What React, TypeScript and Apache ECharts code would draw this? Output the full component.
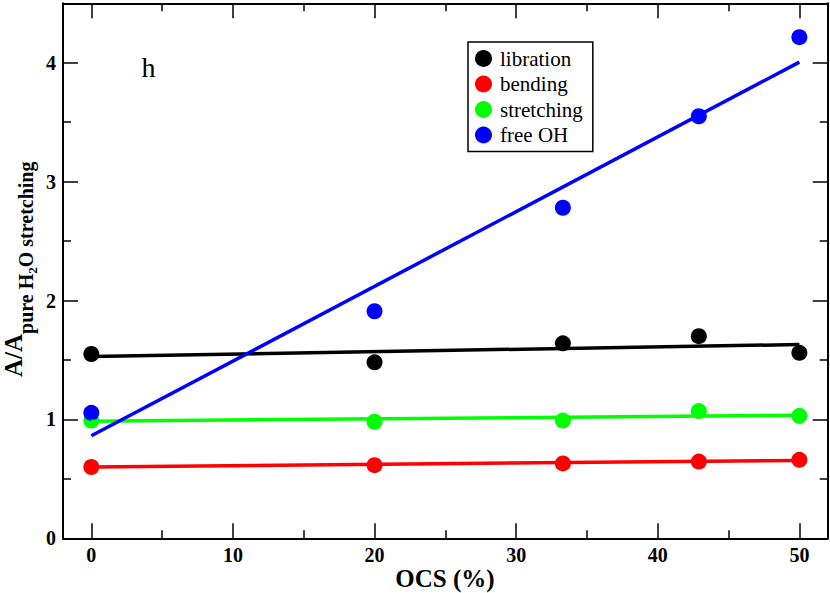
import { useEffect, useRef } from 'react';
import * as echarts from 'echarts';

// ---- data ----
const ocs = [0, 20, 33.3, 42.9, 50];
const libration = [1.55, 1.48, 1.64, 1.7, 1.56];
const bending = [0.6, 0.615, 0.63, 0.645, 0.66];
const stretching = [0.99, 0.98, 0.99, 1.07, 1.03];
const freeOH = [1.055, 1.91, 2.78, 3.55, 4.215];

const fitX = [0, 50];
const fitLibration = [1.53, 1.63];
const fitBending = [0.6, 0.655];
const fitStretching = [0.985, 1.035];
const fitFreeOH = [0.862, 4.005];

const seriesNames = ['libration', 'bending', 'stretching', 'free OH'];
const seriesColors = ['#000000', '#ff0000', '#00ff00', '#0000ff'];
const pointSets = [libration, bending, stretching, freeOH];
const fitSets = [fitLibration, fitBending, fitStretching, fitFreeOH];

const xTitle = 'OCS (%)';
const panelLabel = 'h';

const FONT = '"Liberation Serif", "Times New Roman", serif';

const pair = (xs: number[], ys: number[]) => xs.map((x, i) => [x, ys[i]]);

function measure(text: string, font: string): number {
  const c = document.createElement('canvas').getContext('2d');
  if (!c) return text.length * 10;
  c.font = font;
  return c.measureText(text).width;
}

export default function App() {
  const ref = useRef<HTMLDivElement>(null);

  useEffect(() => {
    if (!ref.current) return;
    const chart = echarts.init(ref.current, undefined, { renderer: 'svg' });

    const axisCommon = {
      axisLine: { show: true, onZero: false, lineStyle: { color: '#000', width: 2 } },
      axisTick: { show: true, inside: true, length: 15, lineStyle: { color: '#000', width: 1.5 } },
      minorTick: { show: true, splitNumber: 2, length: 8, lineStyle: { color: '#000', width: 1.5 } },
      splitLine: { show: false },
      minorSplitLine: { show: false },
    };
    const labelStyle = {
      fontFamily: FONT,
      fontWeight: 'bold' as const,
      fontSize: 20,
      color: '#000',
    };

    // y-axis title built from pieces (main text + subscripts)
    const mainFont = `bold 25px "Liberation Serif"`;
    const subFont = `bold 20px "Liberation Serif"`;
    const subSubFont = `bold 13px "Liberation Serif"`;
    const pieces = [
      { text: 'A/A', font: mainFont, size: 25, base: 0 },
      { text: 'pure H', font: subFont, size: 20, base: 10.6 },
      { text: '2', font: subSubFont, size: 13, base: 14.5 },
      { text: 'O stretching', font: subFont, size: 20, base: 10.6 },
    ];
    let cx = 0;
    const titleChildren: any[] = pieces.map((p) => {
      const el = {
        type: 'text',
        x: cx,
        y: p.base - 0.3375 * p.size,
        style: {
          text: p.text,
          font: p.font,
          fill: '#000',
          textAlign: 'left',
          textVerticalAlign: 'middle',
          verticalAlign: 'middle',
        },
      };
      cx += measure(p.text, p.font);
      return el;
    });

    const scatterSeries = seriesNames.map((name, i) => ({
      type: 'scatter',
      name,
      data: pair(ocs, pointSets[i]),
      symbol: 'circle',
      symbolSize: 16,
      itemStyle: { color: seriesColors[i], opacity: 1 },
      xAxisIndex: 0,
      yAxisIndex: 0,
      silent: true,
    }));
    const fitSeries = seriesNames.map((name, i) => ({
      type: 'line',
      name: name + ' fit',
      data: pair(fitX, fitSets[i]),
      symbol: 'none',
      showSymbol: false,
      lineStyle: { color: seriesColors[i], width: 3.5, opacity: 1 },
      itemStyle: { color: seriesColors[i] },
      xAxisIndex: 0,
      yAxisIndex: 0,
      silent: true,
    }));

    chart.setOption({
      animation: false,
      backgroundColor: '#ffffff',
      grid: {
        left: 63,
        right: 2.3,
        top: 3.3,
        bottom: 54.7,
        containLabel: false,
        outerBoundsMode: 'none',
      },
      xAxis: [
        {
          type: 'value',
          position: 'bottom',
          min: -2,
          max: 52,
          splitNumber: 5,
          ...axisCommon,
          axisLabel: { ...labelStyle, show: true, margin: 7, showMinLabel: false, showMaxLabel: false },
        },
        {
          type: 'value',
          position: 'top',
          min: -2,
          max: 52,
          splitNumber: 5,
          ...axisCommon,
          axisLabel: { show: false },
        },
      ],
      yAxis: [
        {
          type: 'value',
          position: 'left',
          min: 0,
          max: 4.5,
          interval: 1,
          ...axisCommon,
          axisLabel: { ...labelStyle, show: true, margin: 7, showMaxLabel: false },
        },
        {
          type: 'value',
          position: 'right',
          min: 0,
          max: 4.5,
          interval: 1,
          ...axisCommon,
          axisLabel: { show: false },
        },
      ],
      legend: {
        data: seriesNames,
        orient: 'vertical',
        left: 468,
        top: 42,
        itemWidth: 17,
        itemHeight: 17,
        itemGap: 4.5,
        icon: 'circle',
        padding: [6, 10, 6, 7],
        borderColor: '#000',
        borderWidth: 1.5,
        backgroundColor: '#fff',
        selectedMode: false,
        itemStyle: { opacity: 1 },
        textStyle: { fontFamily: FONT, fontSize: 21, color: '#000', padding: [0, 0, 0, 3] },
      },
      graphic: [
        {
          type: 'text',
          x: 141.5,
          y: 67,
          style: {
            text: panelLabel,
            font: `28px "Liberation Serif"`,
            fill: '#000',
            textAlign: 'left',
            textVerticalAlign: 'middle',
            verticalAlign: 'middle',
          },
        },
        {
          type: 'text',
          x: 445,
          y: 586.5 - 0.3375 * 25,
          style: {
            text: xTitle,
            font: `bold 25px "Liberation Serif"`,
            fill: '#000',
            textAlign: 'center',
            textVerticalAlign: 'middle',
            verticalAlign: 'middle',
          },
        },
        {
          type: 'group',
          x: 22,
          y: 377,
          rotation: Math.PI / 2,
          children: titleChildren,
        },
      ],
      series: [...scatterSeries, ...fitSeries],
    });

    return () => chart.dispose();
  }, []);

  return (
    <div
      ref={ref}
      style={{ position: 'absolute', left: 0, top: 0, width: 830, height: 593 }}
    />
  );
}
